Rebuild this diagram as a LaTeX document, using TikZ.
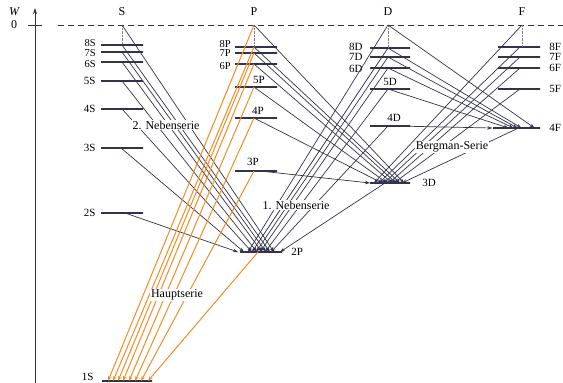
\documentclass[tikz,border=0pt]{standalone}
\usepackage{fontspec}
\setmainfont{Liberation Serif}
\usetikzlibrary{positioning, arrows.meta}
\definecolor{hauptorange}{RGB}{244,140,36}
\definecolor{linegray}{RGB}{50,50,75}

\begin{document}
\begin{tikzpicture}[x=1pt, y=-1pt, font=\fontsize{12}{13}\selectfont]
    \tikzstyle{level} = [draw=linegray, line width=1.4pt, minimum width=42pt, minimum height=0pt, inner sep=0pt];
    \tikzstyle{lab} = [inner sep=0.5pt, font=\fontsize{11}{12}\selectfont];
    \tikzstyle{tightlab} = [inner sep=0pt, font=\fontsize{10.5}{11}\selectfont];
    \tikzstyle{trans} = [linegray, line width=0.7pt, -{Stealth[length=5pt, width=3.5pt]}];
    \tikzstyle{haupt} = [hauptorange, line width=1pt, -{Stealth[length=5pt, width=3.5pt]}];
    \tikzstyle{series} = [fill=white, inner sep=1pt];
    \tikzstyle{limit} = [densely dotted, gray, thin];

    \useasboundingbox (0, 0) rectangle (563, 383);

    \coordinate (axbot) at (35, 383);
    \coordinate (axtop) at (35, 8);
    \draw[linegray, line width=0.8pt, -{Stealth[length=6pt, width=4pt]}] (axbot) -- (axtop);
    \node (W) at (14, 12) {\itshape W};
    \node (zero) at (14, 25) {0};
    \draw[linegray, line width=0.8pt] (28, 25) -- (42, 25);

    \coordinate (dashL) at (58, 25);
    \coordinate (dashR) at (563, 25);
    \draw[linegray, dash pattern=on 6pt off 4pt, line width=0.7pt] (dashL) -- (dashR);

    \coordinate (limS) at (122, 25);
    \coordinate (limP) at (254, 25);
    \coordinate (limD) at (388, 25);
    \coordinate (limF) at (522, 25);
    \node (hS) at (122, 12) {S};
    \node (hP) at (254, 12) {P};
    \node (hD) at (388, 12) {D};
    \node (hF) at (522, 12) {F};

    \node[level] (S8) at (122, 45) {};
    \node[level] (S7) at (122, 52) {};
    \node[level] (S6) at (122, 62) {};
    \node[level] (S5) at (122, 81) {};
    \node[level] (S4) at (122, 109) {};
    \node[level] (S3) at (122, 148) {};
    \node[level] (S2) at (122, 213) {};
    \node[level, minimum width=50pt, line width=1.8pt] (S1) at (127, 381) {};

    \node[level] (P8) at (256, 47) {};
    \node[level] (P7) at (256, 53) {};
    \node[level] (P6) at (256, 64) {};
    \node[level] (P5) at (256, 87) {};
    \node[level] (P4) at (256, 118) {};
    \node[level] (P3) at (256, 171) {};
    \node[level] (P2) at (261, 252) {};

    \node[level, minimum width=40pt] (D8) at (390, 48) {};
    \node[level, minimum width=40pt] (D7) at (390, 57) {};
    \node[level, minimum width=40pt] (D6) at (390, 68) {};
    \node[level, minimum width=40pt] (D5) at (390, 89) {};
    \node[level, minimum width=40pt] (D4) at (390, 126) {};
    \node[level, minimum width=40pt] (D3) at (390, 183) {};

    \node[level] (F8) at (519, 47) {};
    \node[level] (F7) at (519, 57) {};
    \node[level] (F6) at (519, 68) {};
    \node[level] (F5) at (519, 89) {};
    \node[level, minimum width=47pt] (F4) at (516.5, 128) {};

    \node[tightlab, left = 4.5pt of S8, yshift=2pt] {8S};
    \node[tightlab, left = 4.5pt of S7, yshift=-1pt] {7S};
    \node[tightlab, left = 4.5pt of S6, yshift=-2pt] {6S};
    \foreach \n in {5, 4, 3, 2}
        \node[lab, left = 4pt of S\n] {\n S};
    \node[lab, left = 7pt of S1, yshift=4pt] {1S};
    \node[tightlab, left = 3.5pt of P8, yshift=2.5pt] {8P};
    \node[tightlab, left = 3.5pt of P7, yshift=-0.5pt] {7P};
    \node[tightlab, left = 3.5pt of P6, yshift=-2.5pt] {6P};
    \node[lab, above = 1.5pt of P5, xshift=3pt] {5P};
    \node[lab, above = 2.5pt of P4, xshift=2pt] {4P};
    \node[lab, above = 3.5pt of P3, xshift=-3pt] {3P};
    \node[lab, right = 8pt of P2] {2P};
    \node[lab, left = 6pt of D8, yshift=1pt] {8D};
    \node[lab, left = 6pt of D7] {7D};
    \node[lab, left = 6pt of D6, yshift=-1pt] {6D};
    \node[lab, above = 1.5pt of D5] {5D};
    \node[lab, above = 3.5pt of D4, xshift=4pt] {4D};
    \node[lab, right = 11pt of D3] {3D};
    \foreach \n in {8, 7, 6, 5, 4}
        \node[lab, right = 8pt of F\n] {\n F};

    \draw[limit] (limS) -- (S8.center);
    \draw[limit] (limP) -- ([xshift=-2pt]P8.center);
    \draw[limit] (limD) -- ([xshift=-2pt]D8.center);
    \draw[limit] (limF) -- ([xshift=3pt]F8.center);

    \foreach \s/\a/\e in {limS/0/13, S8/0/9, S7/0/5, S6/0/1, S5/0/-4, S4/0/-9, S3/-1/-17, S2/3/-23}
        \draw[trans] ([xshift=\a pt]\s.center) -- ([xshift=\e pt]P2.center);
    \foreach \s/\a/\e in {limP/0/14, P8/-2/10, P7/-2/6, P6/-2/2, P5/-2/-3, P4/-2/-8, P3/4/-20}
        \draw[trans] ([xshift=\a pt]\s.center) -- ([xshift=\e pt]D3.center);
    \foreach \s/\a/\e in {limD/0/-13, D8/-2/-9, D7/-2/-5, D6/-2/-1, D5/-2/4, D4/-2/10, D3/-5/19}
        \draw[trans] ([xshift=\a pt]\s.center) -- ([xshift=\e pt]P2.center);
    \foreach \s/\a/\e in {limD/0/18, D8/-2/5, D7/-2/1, D6/-2/-3, D5/-2/-8}
        \draw[trans] ([xshift=\a pt]\s.center) -- ([xshift=\e pt]F4.center);
    \draw[trans] ([xshift=5pt]D4.center) -- (F4.west);
    \foreach \s/\a/\e in {limF/0/-16, F8/1/-11, F7/1/-6, F6/1/-1, F5/1/4, F4/2/12}
        \draw[trans] ([xshift=\a pt]\s.center) -- ([xshift=\e pt]D3.center);
    \foreach \s/\a/\e in {limP/0/-19, P8/-2/-14, P7/-2/-9, P6/-2/-4, P5/-2/2, P4/-2/8, P3/-2/14, P2/-3/21}
        \draw[haupt] ([xshift=\a pt]\s.center) -- ([xshift=\e pt]S1.center);

    \node[series] (neben2) at (166, 125) {2. Nebenserie};
    \node[series] (neben1) at (296, 205) {1. Nebenserie};
    \node[series] (bergman) at (452, 147) {Bergman-Serie};
    \node[series] (hauptserie) at (177, 295) {Hauptserie};
\end{tikzpicture}
\end{document}
